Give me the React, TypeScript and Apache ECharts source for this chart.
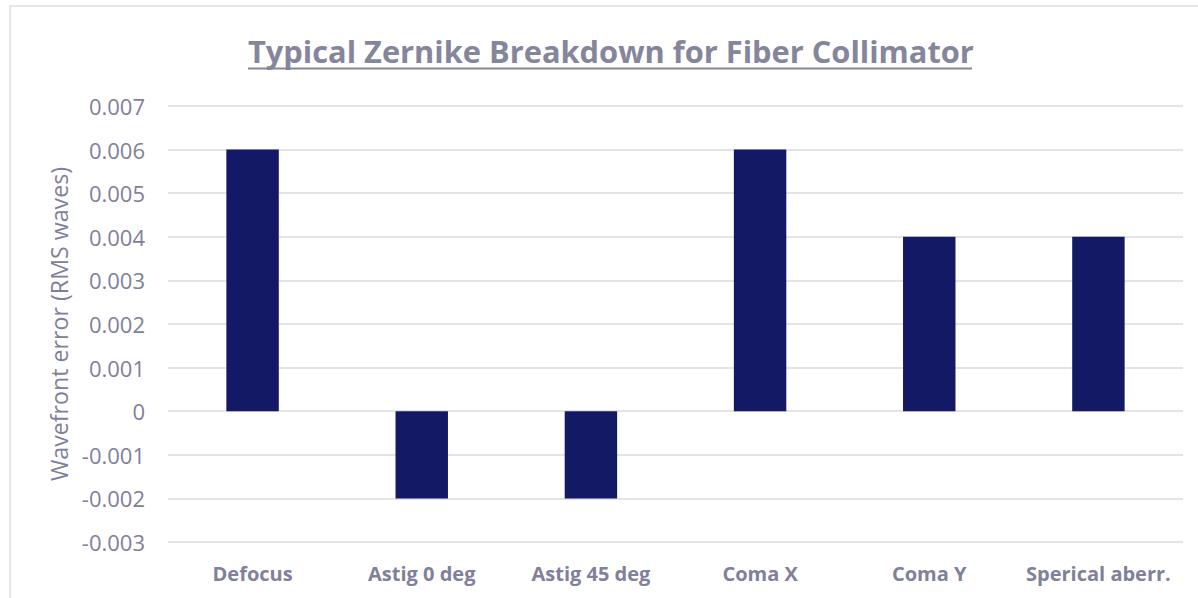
import React, { useEffect, useRef } from "react";
import * as echarts from "echarts";

const categories = ["Defocus", "Astig 0 deg", "Astig 45 deg", "Coma X", "Coma Y", "Sperical aberr."];
const values = [0.006, -0.002, -0.002, 0.006, 0.004, 0.004];
const titleText = "Typical Zernike Breakdown for Fiber Collimator";
const yAxisName = "Wavefront error (RMS waves)";

export default function App() {
  const ref = useRef<HTMLDivElement>(null);
  useEffect(() => {
    document.body.style.margin = "0";
    const chart = echarts.init(ref.current!, null, { renderer: "svg" });
    const gray = "#80809a";
    const font = "Open Sans";
    chart.setOption({
      animation: false,
      backgroundColor: "#ffffff",
      title: {
        text: titleText,
        left: 243,
        top: 30,
        textStyle: { fontFamily: font, fontSize: 30.8, fontWeight: "bold", color: "#85859b" },
      },
      graphic: [
        { type: "rect", shape: { x: 10, y: 6, width: 1300, height: 700 }, style: { fill: "none", stroke: "#dcdce2", lineWidth: 1.5 }, silent: true },
        { type: "line", shape: { x1: 248, y1: 68.5, x2: 972, y2: 68.5 }, style: { stroke: "#85859b", lineWidth: 2 } },
      ],
      grid: { left: 168, right: 15, top: 106, bottom: 56 },
      xAxis: {
        type: "category",
        data: categories,
        axisLine: { show: false },
        axisTick: { show: false },
        axisLabel: { margin: 21, fontFamily: font, fontSize: 20, fontWeight: "bold", color: gray, interval: 0 },
      },
      yAxis: {
        type: "value",
        min: -0.003,
        max: 0.007,
        interval: 0.001,
        name: yAxisName,
        nameLocation: "middle",
        nameGap: 96,
        nameTextStyle: { fontFamily: font, fontSize: 23.2, color: gray },
        axisLabel: {
          margin: 23,
          fontFamily: font,
          fontSize: 22,
          color: gray,
          formatter: (v: number) => (Math.abs(v) < 1e-9 ? "0" : v.toFixed(3)),
        },
        splitLine: { lineStyle: { color: "#dadae0", width: 1.5 } },
      },
      series: [
        {
          type: "bar",
          data: values,
          barWidth: "31%",
          itemStyle: { color: "#141966" },
        },
      ],
    });
    return () => chart.dispose();
  }, []);
  return <div ref={ref} style={{ width: 1198, height: 598 }} />;
}
